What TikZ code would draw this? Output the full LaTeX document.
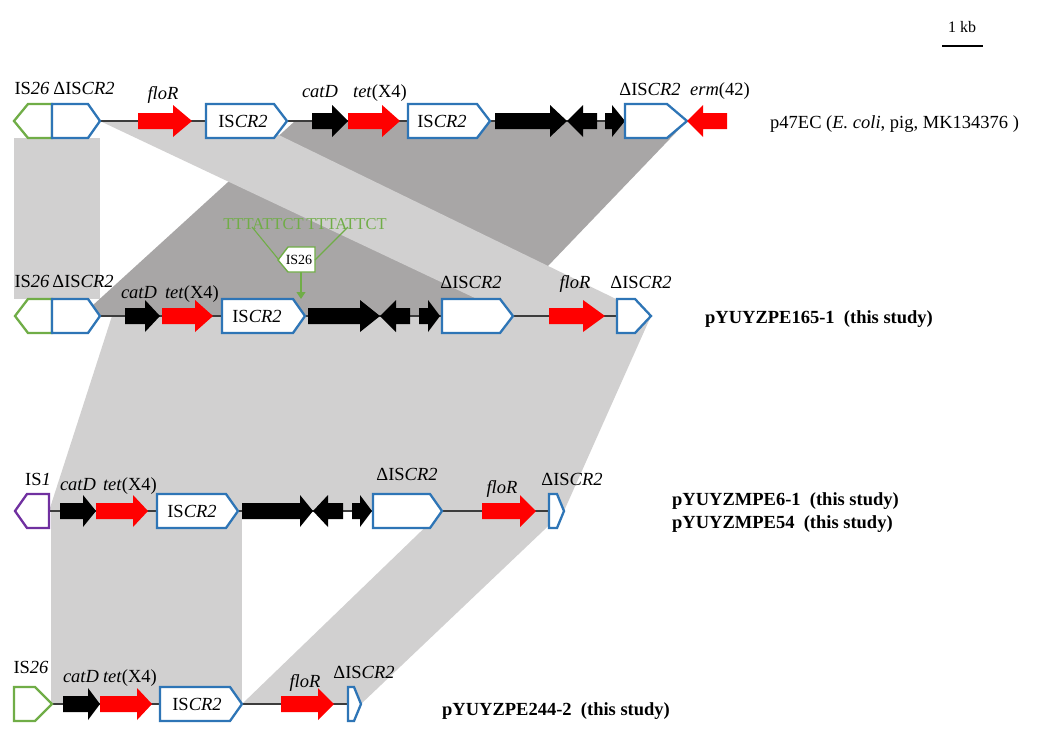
\documentclass[tikz,border=0pt]{standalone}
\usepackage{fontspec}
\setmainfont{Liberation Serif}
\usetikzlibrary{arrows.meta}
\definecolor{lgray}{RGB}{209,208,208}
\definecolor{dgray}{RGB}{168,166,166}
\definecolor{isblue}{RGB}{46,117,182}
\definecolor{isgreen}{RGB}{112,173,71}
\definecolor{ispurple}{RGB}{112,48,160}
\definecolor{genered}{RGB}{255,0,0}
\definecolor{bbline}{RGB}{60,60,60}
\newcommand{\labfont}{\fontsize{18.5}{22}\selectfont}
% forward gene arrow: tail, head start, tip, y, colour
\newcommand{\gF}[5]{\fill[#5] (#1,#4-8) -- (#2,#4-8) -- (#2,#4-16) -- (#3,#4) -- (#2,#4+16) -- (#2,#4+8) -- (#1,#4+8) -- cycle;}
% reverse gene arrow: tip, head end, tail, y, colour
\newcommand{\gR}[5]{\fill[#5] (#3,#4-8) -- (#2,#4-8) -- (#2,#4-16) -- (#1,#4) -- (#2,#4+16) -- (#2,#4+8) -- (#3,#4+8) -- cycle;}
% forward element box: left, point start, tip, y, colour
\newcommand{\bF}[5]{\draw[#5, line width=2.3pt, fill=white, line join=miter] (#1,#4-17) -- (#2,#4-17) -- (#3,#4) -- (#2,#4+17) -- (#1,#4+17) -- cycle;}
% reverse element box: tip, point end, right, y, colour
\newcommand{\bR}[5]{\draw[#5, line width=2.3pt, fill=white, line join=miter] (#3,#4-17) -- (#2,#4-17) -- (#1,#4) -- (#2,#4+17) -- (#3,#4+17) -- cycle;}
\begin{document}
\begin{tikzpicture}[x=1pt,y=-1pt,
  lab/.style={font=\labfont, anchor=base, inner sep=0pt},
  nm/.style={font=\labfont\bfseries, anchor=base west, inner sep=0pt},
  backbone/.style={draw=bbline, line width=1.3pt},
  ins/.style={draw=isgreen, line width=1.1pt}]
\useasboundingbox (0,0) rectangle (1040,737);
\fill[white] (0,0) rectangle (1040,737);

% ---------- homology bands ----------
% row 1 -> row 2
\fill[dgray] (295,121) -- (687,121) -- (500,316) -- (81,316) -- cycle;
\fill[lgray] (100,121) -- (250,121) -- (651,316) -- (513,316) -- cycle;
\fill[lgray] (14,138) rectangle (100,299);
% row 2 -> row 3
\fill[lgray] (112,316) -- (651,316) -- (564,511) -- (49,511) -- cycle;
% row 3 -> row 4
\fill[lgray] (51,511) rectangle (242,704);
\fill[lgray] (442,511) -- (564,511) -- (361,704) -- (242,704) -- cycle;

% ---------- backbones ----------
\coordinate (a1) at (100,121); \coordinate (a2) at (687,121);
\coordinate (b1) at (100,316); \coordinate (b2) at (617,316);
\coordinate (c1) at (49,511);  \coordinate (c2) at (549,511);
\coordinate (d1) at (52,704);  \coordinate (d2) at (348,704);
\draw[backbone] (a1) -- (a2);
\draw[backbone] (b1) -- (b2);
\draw[backbone] (c1) -- (c2);
\draw[backbone] (d1) -- (d2);

% ---------- row 1: p47EC ----------
\bR{14}{28}{52}{121}{isgreen}
\bF{52}{88}{100}{121}{isblue}
\gF{138}{173}{192}{121}{genered}
\bF{206}{274}{287}{121}{isblue}
\gF{312}{332}{348}{121}{black}
\gF{348}{382}{400}{121}{genered}
\bF{408}{477}{490}{121}{isblue}
\gF{495}{550}{567}{121}{black}
\gR{567}{583}{597}{121}{black}
\gF{605}{612}{625}{121}{black}
\bF{625}{667}{687}{121}{isblue}
\gR{687}{703}{727}{121}{genered}
\node[lab] (r1a) at (32,94) {IS\textit{26}};
\node[lab] (r1b) at (84,94) {ΔIS\textit{CR2}};
\node[lab] (r1c) at (163,99) {\textit{floR}};
\node[lab] (r1d) at (243,127) {IS\textit{CR2}};
\node[lab] (r1e) at (320,97) {\textit{catD}};
\node[lab] (r1f) at (380,97) {\textit{tet}(X4)};
\node[lab] (r1g) at (442,127) {IS\textit{CR2}};
\node[lab] (r1h) at (650,95) {ΔIS\textit{CR2}};
\node[lab] (r1i) at (720,95) {\textit{erm}(42)};
\node[font=\labfont, anchor=base west, inner sep=0pt] (r1n) at (770,128) {p47EC (\textit{E. coli}, pig, MK134376 )};

% ---------- row 2: pYUYZPE165-1 ----------
\bR{15}{28}{52}{316}{isgreen}
\bF{52}{88}{100}{316}{isblue}
\gF{125}{145}{160}{316}{black}
\gF{162}{195}{213}{316}{genered}
\bF{222}{293}{305}{316}{isblue}
\gF{308}{360}{380}{316}{black}
\gR{380}{396}{410}{316}{black}
\gF{419}{428}{440}{316}{black}
\bF{442}{500}{513}{316}{isblue}
\gF{549}{583}{605}{316}{genered}
\bF{617}{635}{651}{316}{isblue}
\node[lab] (r2a) at (32,287) {IS\textit{26}};
\node[lab] (r2b) at (83,287) {ΔIS\textit{CR2}};
\node[lab] (r2c) at (139,298) {\textit{catD}};
\node[lab] (r2d) at (192,298) {\textit{tet}(X4)};
\node[lab] (r2e) at (257,322) {IS\textit{CR2}};
\node[lab] (r2f) at (471,288) {ΔIS\textit{CR2}};
\node[lab] (r2g) at (575,288) {\textit{floR}};
\node[lab] (r2h) at (641,288) {ΔIS\textit{CR2}};
\node[nm] (r2n) at (705,323) {pYUYZPE165-1\ \ (this study)};

% IS26 insertion
\node[font=\fontsize{16.5}{18}\selectfont, text=isgreen, anchor=base, inner sep=0pt] (tsd) at (305,229) {TTTATTCT\,TTTATTCT};
\draw[isgreen, line width=1.4pt, fill=white, line join=miter] (315,247) -- (288,247) -- (278,260) -- (288,272) -- (315,272) -- cycle;
\node[font=\fontsize{14}{15}\selectfont, anchor=center, inner sep=0pt] (is26s) at (299,260) {IS26};
\coordinate (tsdL) at (252,227);
\coordinate (tsdR) at (348,227);
\coordinate (boxL) at (279,260);
\coordinate (boxR) at (315,260);
\coordinate (boxB) at (301,272);
\coordinate (site) at (301,299);
\draw[ins] (tsdL) -- (boxL);
\draw[ins] (tsdR) -- (boxR);
\draw[ins, -{Triangle[length=7pt,width=9pt]}] (boxB) -- (site);

% ---------- row 3: pYUYZMPE6-1 / pYUYZMPE54 ----------
\bR{15}{27}{49}{511}{ispurple}
\gF{60}{83}{96}{511}{black}
\gF{96}{133}{148}{511}{genered}
\bF{157}{226}{238}{511}{isblue}
\gF{242}{300}{313}{511}{black}
\gR{313}{328}{343}{511}{black}
\gF{352}{360}{372}{511}{black}
\bF{373}{430}{442}{511}{isblue}
\gF{482}{520}{536}{511}{genered}
\bF{549}{557}{564}{511}{isblue}
\node[lab] (r3a) at (38,485) {IS\textit{1}};
\node[lab] (r3b) at (78,490) {\textit{catD}};
\node[lab] (r3c) at (130,490) {\textit{tet}(X4)};
\node[lab] (r3d) at (192,517) {IS\textit{CR2}};
\node[lab] (r3e) at (407,480) {ΔIS\textit{CR2}};
\node[lab] (r3f) at (502,493) {\textit{floR}};
\node[lab] (r3g) at (572,485) {ΔIS\textit{CR2}};
\node[nm] (r3n) at (672,505) {pYUYZMPE6-1\ \ (this study)};
\node[nm] (r3m) at (672,528) {pYUYZMPE54\ \ (this study)};

% ---------- row 4: pYUYZPE244-2 ----------
\bF{14}{35}{52}{704}{isgreen}
\gF{63}{88}{100}{704}{black}
\gF{100}{137}{152}{704}{genered}
\bF{160}{230}{242}{704}{isblue}
\gF{281}{318}{334}{704}{genered}
\bF{348}{354}{361}{704}{isblue}
\node[lab] (r4a) at (31,673) {IS\textit{26}};
\node[lab] (r4b) at (81,682) {\textit{catD}};
\node[lab] (r4c) at (130,682) {\textit{tet}(X4)};
\node[lab] (r4d) at (197,710) {IS\textit{CR2}};
\node[lab] (r4e) at (305,687) {\textit{floR}};
\node[lab] (r4f) at (364,678) {ΔIS\textit{CR2}};
\node[nm] (r4n) at (442,715) {pYUYZPE244-2\ \ (this study)};

% ---------- scale bar ----------
\node[font=\fontsize{16}{18}\selectfont, anchor=base, inner sep=0pt] (kb) at (962,32) {1 kb};
\coordinate (sbL) at (942,46);
\coordinate (sbR) at (983,46);
\draw[line width=1.3pt] (sbL) -- (sbR);
\end{tikzpicture}
\end{document}
